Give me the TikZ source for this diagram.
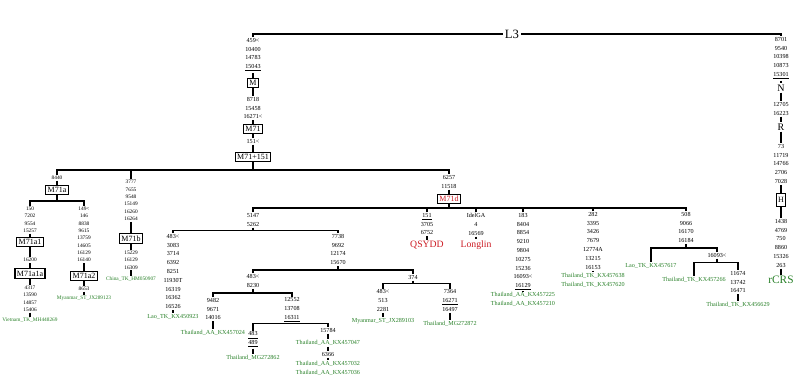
\documentclass[tikz,border=0pt]{standalone}
\usepackage{fontspec}
\setmainfont{Liberation Serif}

\definecolor{smpgreen}{RGB}{40,128,40}
\definecolor{smpred}{RGB}{204,28,36}
\newcommand{\mutsize}{\fontsize{4.6}{6.6}\selectfont}
\newcommand{\mutsmall}{\fontsize{4}{5.5}\selectfont}

\tikzset{every picture/.style={line width=0.75pt}}
\tikzset{
  mut/.style={anchor=north, inner sep=0.6pt, align=center, font=\mutsize},
  mutsm/.style={mut, font=\mutsmall},
  hg/.style={draw, line width=0.8pt, inner sep=1.4pt, font=\fontsize{6}{7}\selectfont},
  smp/.style={mut, text=smpgreen},
  smpsm/.style={mutsm, text=smpgreen},
  pop/.style={text=smpred, inner sep=0.6pt, font=\fontsize{7.3}{8}\selectfont},
  big/.style={inner sep=0.6pt, font=\fontsize{7.5}{8}\selectfont},
  br/.style={line width=1.2pt},
}

\begin{document}
\begin{tikzpicture}[x=0.75pt,y=0.75pt,yscale=-1,xscale=1]
\useasboundingbox (0,0) rectangle (800,389);

%Root L3
\coordinate (jl3) at (512,34);

% Text Node: M branch
\node (sm) at (253,37) [mut] {459<\\10400\\14783\\\underline{15043}};
\node (m) at (253,83) [hg] {M};
\node (sm71) at (253,96) [mut] {8718\\15458\\16271<};
\node (m71) at (253,129) [hg] {M71};
\node (s151) at (253,138) [mut] {151<};
\node (m71p) at (253,157) [hg] {M71+151};
\coordinate (jm71p) at (253,170);

% Text Node: rCRS branch
\node (s8701) at (781,36) [mut] {8701\\9540\\10398\\10873\\\underline{15301}};
\node (n) at (781,88) [big] {N};
\node (s12705) at (781,101) [mut] {12705\\16223};
\node (r) at (781,127) [big] {R};
\node (s73) at (781,143) [mut] {73\\11719\\14766\\2706\\7028};
\node (h) at (781,200) [hg, minimum height=10pt] {H};
\node (s1438) at (781,218) [mut] {1438\\4769\\750\\8860\\15326\\263};
\node (rcrs) at (781,280) [inner sep=0.6pt, text=smpgreen, font=\fontsize{8.5}{9}\selectfont] {rCRS};

% Text Node: M71a
\node (s8440) at (57,174.5) [mutsm] {8440};
\node (m71a) at (57,190) [hg] {M71a};
\coordinate (jm71a) at (57,201);
\node (s150) at (30,205.5) [mutsm] {150\\7202\\9554\\15257};
\node (m71a1) at (30,242) [hg] {M71a1};
\node (s16200) at (30,257) [mutsm] {16200};
\node (m71a1a) at (30,273.5) [hg] {M71a1a};
\node (s4317) at (30,284.5) [mutsm] {4317\\13590\\14857\\15406};
\node (vn269) at (30,316.5) [smpsm] {Vietnam\_TK\_MH448269};
\node (s149) at (84,205.5) [mutsm] {149<\\146\\8838\\9615\\13759\\14605\\16129\\16140};
\node (m71a2) at (84,276) [hg] {M71a2};
\node (s8653) at (84,285.5) [mutsm] {8653};
\node (my123) at (84,294.5) [smpsm] {Myanmar\_ST\_JX289123};

% Text Node: M71b
\node (s3777) at (131,179) [mutsm] {3777\\7655\\9548\\15149\\16260\\16264};
\node (m71b) at (131,238.5) [hg] {M71b};
\node (s15229) at (131,249.5) [mutsm] {15229\\16129\\16309};
\node (cn907) at (131,275.5) [smpsm] {China\_TK\_HM050907};

% Text Node: M71d
\node (s6257) at (449,174) [mut] {6257\\11518};
\node (m71d) at (449,199) [hg, text=smpred] {M71d};
\coordinate (jm71d) at (449,208);

\node (s5147) at (253,212) [mut] {5147\\5262};
\coordinate (j5147) at (253,230.5);
\node (s483a) at (173,233) [mut] {483<\\3083\\3714\\6392\\8251\\11930T\\16319\\16362\\16526};
\node (lao923) at (173,313) [smp] {Lao\_TK\_KX450923};
\node (s7738) at (338,233) [mut] {7738\\9692\\12174\\15670};
\coordinate (j7738) at (338,270);
\node (s483b) at (253,273) [mut] {483<\\8230};
\coordinate (j483b) at (253,293);
\node (s9482) at (213,297) [mut] {9482\\9671\\14016};
\node (aa024) at (213,329) [smp] {Thailand\_AA\_KX457024};
\node (s12552) at (292,296.5) [mut] {12552\\13708\\\underline{16311}};
\coordinate (j12552) at (292,323.5);
\node (s483c) at (253,330.5) [mut] {\underline{483}\\\underline{489}};
\node (mg862) at (253,353.5) [smp] {Thailand\_MG272862};
\node (s15784) at (328,327) [mut] {15784};
\node (aa047) at (328,339) [smp] {Thailand\_AA\_KX457047};
\node (s6366) at (328,351) [mut] {6366};
\node (aa032) at (328,360) [smp] {Thailand\_AA\_KX457032\\Thailand\_AA\_KX457036};
\node (s374) at (413,274) [mut] {374};
\coordinate (j374) at (413,283.5);
\node (s483d) at (383,288.5) [mut] {483<\\513\\2281};
\node (my103) at (383,317) [smp] {Myanmar\_ST\_JX289103};
\node (s7364) at (450,288.5) [mut] {7364\\\underline{16271}\\16497};
\node (mg872) at (450,320) [smp] {Thailand\_MG272872};

\node (s151b) at (427,212) [mut] {\underline{151}\\3705\\6752};
\node (qsydd) at (427,245) [pop] {QSYDD};
\node (sidel) at (476,212) [mut] {IdelGA\\4\\16569};
\node (longlin) at (476,245) [pop] {Longlin};
\node (s183) at (523,212) [mut] {183\\8404\\8854\\9210\\9804\\10275\\15236\\16093<\\\underline{16129}};
\node (aa225) at (523,291) [smp] {Thailand\_AA\_KX457225\\Thailand\_AA\_KX457210};
\node (s282) at (593,211) [mut] {282\\3395\\3426\\7679\\12774A\\13215\\16153};
\node (tk638) at (593,272) [smp] {Thailand\_TK\_KX457638\\Thailand\_TK\_KX457620};
\node (s508) at (686,211) [mut] {508\\9066\\16170\\16184};
\coordinate (j508) at (686,248);
\node (lao617) at (651,262) [smp] {Lao\_TK\_KX457617};
\node (s16093) at (717,252) [mut] {16093<};
\coordinate (j16093) at (717,262.5);
\node (tk266) at (694,275.5) [smp] {Thailand\_TK\_KX457266};
\node (s11674) at (738,270) [mut] {11674\\13742\\16471};
\node (tk629) at (738,301) [smp] {Thailand\_TK\_KX456629};

%Straight Lines
\draw [br] (sm.north) |- (jl3) -| (s8701.north);
\draw [br] (sm) -- (m) (m) -- (sm71) (sm71) -- (m71) (m71) -- (s151) (s151) -- (m71p) (m71p) -- (jm71p);
\draw [br] (s8701) -- (n) (n) -- (s12705) (s12705) -- (r) (r) -- (s73) (s73) -- (h) (h) -- (s1438) (s1438) -- (rcrs);
\draw [br] (s8440.north) |- (jm71p) -| (s6257.north);
\draw [br] (s3777.north) -- (s3777.north |- jm71p);
\draw [br] (s8440) -- (m71a) (m71a) -- (jm71a);
\draw [br] (s150.north) |- (jm71a) -| (s149.north);
\draw [br] (s150) -- (m71a1) (m71a1) -- (s16200) (s16200) -- (m71a1a) (m71a1a) -- (s4317) (s4317) -- (vn269);
\draw [br] (s149) -- (m71a2) (m71a2) -- (s8653) (s8653) -- (my123);
\draw [br] (s3777) -- (m71b) (m71b) -- (s15229) (s15229) -- (cn907);
\draw [br] (s6257) -- (m71d) (m71d) -- (jm71d);
\draw [br] (s5147.north) |- (jm71d) -| (s508.north);
\foreach \c in {s151b,sidel,s183,s282}
  \draw [br] (\c.north) -- (\c.north |- jm71d);
\draw [br] (s5147) -- (j5147);
\draw [br] (s483a.north) |- (j5147) -| (s7738.north);
\draw [br] (s483a) -- (lao923);
\draw [br] (s7738) -- (j7738);
\draw [br] (s483b.north) |- (j7738) -| (s374.north);
\draw [br] (s483b) -- (j483b);
\draw [br] (s9482.north) |- (j483b) -| (s12552.north);
\draw [br] (s9482) -- (aa024);
\draw [br] (s12552) -- (j12552);
\draw [br] (s483c.north) |- (j12552) -| (s15784.north);
\draw [br] (s483c) -- (mg862);
\draw [br] (s15784) -- (aa047) (aa047) -- (s6366) (s6366) -- (aa032);
\draw [br] (s374) -- (j374);
\draw [br] (s483d.north) |- (j374) -| (s7364.north);
\draw [br] (s483d) -- (my103) (s7364) -- (mg872);
\draw [br] (s151b) -- (qsydd) (sidel) -- (longlin) (s183) -- (aa225) (s282) -- (tk638);
\draw [br] (s508) -- (j508);
\draw [br] (lao617.north) |- (j508) -| (s16093.north);
\draw [br] (s16093) -- (j16093);
\draw [br] (tk266.north) |- (j16093) -| (s11674.north);
\draw [br] (s11674) -- (tk629);

% Text Node
\node (l3) at (jl3) [fill=white, inner sep=1.5pt, font=\fontsize{9.5}{10}\selectfont] {L3};

\end{tikzpicture}
\end{document}
